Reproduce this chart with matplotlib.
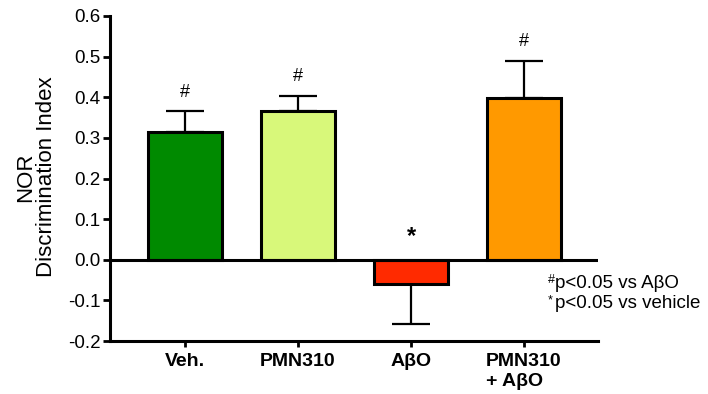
import matplotlib
matplotlib.use('Agg')
import matplotlib.pyplot as plt

plt.rcParams['font.family'] = ['Liberation Sans', 'DejaVu Sans']
plt.rcParams['axes.unicode_minus'] = False

groups = ['Veh.', 'PMN310', 'AβO', 'PMN310\n+ AβO']
means = [0.315, 0.367, -0.059, 0.397]
sems = [0.050, 0.036, 0.098, 0.093]
marks = ['#', '#', '*', '#']
colors = ['#008a00', '#d8f87a', '#ff2a00', '#ff9900']
yticks = [-0.2, -0.1, 0.0, 0.1, 0.2, 0.3, 0.4, 0.5, 0.6]
notes = [('#', 'p<0.05 vs AβO'), ('*', 'p<0.05 vs vehicle')]

fig = plt.figure(figsize=(7.08, 3.94), dpi=100)
ax = fig.add_axes([110 / 708, 1 - 341 / 394, 488 / 708, 325 / 394])

x = list(range(len(groups)))
lower = [s if m < 0 else 0 for m, s in zip(means, sems)]
upper = [0 if m < 0 else s for m, s in zip(means, sems)]
ax.errorbar(x, means, yerr=[lower, upper], fmt='none', ecolor='black',
            elinewidth=1.6, capsize=13.5, capthick=1.6, zorder=1)
ax.bar(x, means, width=0.66, color=colors, edgecolor='black', linewidth=2.2, zorder=2)
ax.axhline(0, color='black', linewidth=2.2, zorder=3)

for xi, m, s, mk in zip(x, means, sems, marks):
    if m >= 0:
        ax.annotate(mk, (xi, m + s), xytext=(0, 14), textcoords='offset points',
                    ha='center', va='center', fontsize=13)
    else:
        ax.annotate(mk, (xi, 0), xytext=(0, 17), textcoords='offset points',
                    ha='center', va='center', fontsize=17, fontweight='bold')

ax.set_xlim(-0.664, 3.655)
ax.set_ylim(-0.2, 0.6)
ax.set_yticks(yticks)
ax.set_yticklabels([f'{v:.1f}' for v in yticks], fontsize=13.5)
ax.set_xticks(x)
ax.set_xticklabels(groups, fontsize=14, fontweight='bold', multialignment='left')
ax.tick_params(axis='y', length=5, width=2, pad=2)
ax.tick_params(axis='x', length=4, width=2, pad=5)
for side in ['top', 'right']:
    ax.spines[side].set_visible(False)
for side in ['left', 'bottom']:
    ax.spines[side].set_linewidth(2.2)

fig.text(36 / 708, 1 - 177 / 394, 'NOR\nDiscrimination Index', rotation=90,
         ha='center', va='center', fontsize=16, linespacing=1.0)

for i, (sym, txt) in enumerate(notes):
    yy = 1 - (283 + 20 * i) / 394
    fig.text(548 / 708, yy + 3 / 394, sym, ha='left', va='center', fontsize=9)
    fig.text(555 / 708, yy, txt, ha='left', va='center', fontsize=13.5)

fig.savefig('out.png', dpi=100)
